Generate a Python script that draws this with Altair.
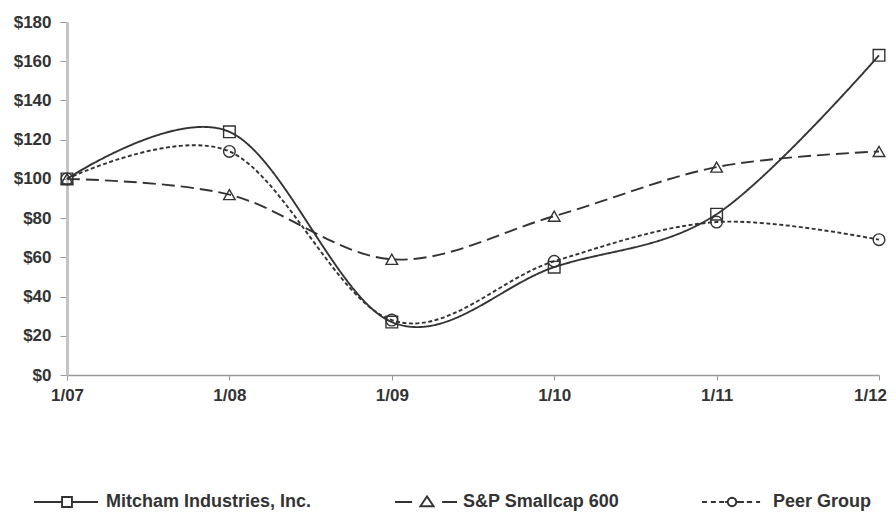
import math
import altair as alt
import pandas as pd

dates = ["1/07", "1/08", "1/09", "1/10", "1/11", "1/12"]
series = ["Mitcham Industries, Inc.", "S&P Smallcap 600", "Peer Group"]
mitcham = [100, 124, 27, 55, 82, 163]
sp600 = [100, 92, 59, 81, 106, 114]
peer = [100, 114, 28, 58, 78, 69]

marker_of = {series[0]: "square", series[1]: "triangle-up", series[2]: "circle"}
dash_of = {series[0]: [1, 0], series[1]: [13, 6], series[2]: [4, 2.5]}

rows = []
for name, vals in zip(series, [mitcham, sp600, peer]):
    for d, v in zip(dates, vals):
        rows.append({"date": d, "series": name, "dash": name, "mark": name, "value": v})
df = pd.DataFrame(rows)

FONT = "Liberation Sans"
INK = "#333333"

# legend glyphs (line pieces + marker) in unit coords, scaled by sqrt(size)/2
def circle_path(cx, r, n=16):
    pts = [(cx + r * math.cos(2 * math.pi * i / n), r * math.sin(2 * math.pi * i / n)) for i in range(n)]
    return "M" + "L".join(f"{x:.3f},{y:.3f}" for x, y in pts) + "Z"

def segs(pairs):
    return "".join(f"M{a},0H{b}" for a, b in pairs)

q = 0.15
sym_mitcham = segs([(-1, -q), (q, 0.94)]) + f"M{-q},{-q}H{q}V{q}H{-q}Z"
sym_sp = segs([(-0.88, -0.36), (0.55, 1.0)]) + "M0.09,-0.17L0.29,0.13L-0.11,0.13Z"
sym_peer = (
    segs([(-0.97, -0.82), (-0.70, -0.55), (-0.45, -0.30), (-0.27, -0.19),
          (0.07, 0.15), (0.15, 0.30), (0.39, 0.55), (0.67, 0.79)])
    + circle_path(-0.06, 0.13)
)

shape_sig = (
    f"datum.value === '{series[0]}' ? '{sym_mitcham}' : "
    f"datum.value === '{series[1]}' ? '{sym_sp}' : '{sym_peer}'"
)

# data-driven (alphabetical) domains for shape / dash so they do not merge with the legend
alpha = sorted(series)

base = alt.Chart(df).encode(
    x=alt.X(
        "date:N",
        sort=dates,
        scale=alt.Scale(type="point", padding=0),
        title=None,
        axis=alt.Axis(
            labelAngle=0,
            domainColor="#999999",
            domainWidth=1.5,
            tickColor="#999999",
            tickSize=5,
            labelPadding=7,
            labelOffset={"condition": {"test": "datum.value === '1/12'", "value": -9}, "value": 0},
            labelFont=FONT,
            labelFontSize=17,
            labelFontWeight="bold",
            labelColor=INK,
            grid=False,
        ),
    ),
    y=alt.Y(
        "value:Q",
        scale=alt.Scale(domain=[0, 180], nice=False),
        title=None,
        axis=alt.Axis(
            values=list(range(0, 181, 20)),
            labelExpr="'$' + datum.value",
            domainColor="#c4c4c4",
            domainWidth=3,
            tickColor="#999999",
            tickSize=7,
            labelPadding=9,
            labelFont=FONT,
            labelFontSize=17,
            labelFontWeight="bold",
            labelColor=INK,
            grid=False,
        ),
    ),
)

lines = base.mark_line(interpolate="cardinal", tension=0, strokeWidth=1.9).encode(
    color=alt.Color(
        "series:N",
        sort=series,
        scale=alt.Scale(domain=series, range=[INK, INK, INK]),
        legend=alt.Legend(
            title=None,
            orient="none",
            legendX=-34,
            legendY=446,
            direction="horizontal",
            columns=3,
            columnPadding=78,
            padding=0,
            symbolSize=4356,
            symbolStrokeWidth=1.9,
            symbolFillColor="transparent",
            symbolType=alt.ExprRef(expr=shape_sig),
            labelFont=FONT,
            labelFontSize=18,
            labelFontWeight="bold",
            labelColor=INK,
            labelOffset=5,
            labelLimit=0,
        ),
    ),
    strokeDash=alt.StrokeDash(
        "dash:N",
        scale=alt.Scale(range=[dash_of[s] for s in alpha]),
        legend=None,
    ),
)

points = base.mark_point(filled=False, color=INK, size=135, strokeWidth=1.4, opacity=1).encode(
    shape=alt.Shape(
        "mark:N",
        scale=alt.Scale(range=[marker_of[s] for s in alpha]),
        legend=None,
    ),
)

chart = (
    alt.layer(lines, points)
    .properties(
        width=812,
        height=353,
        autosize=alt.AutoSizeParams(type="none"),
        padding={"left": 59, "top": 14, "right": 9, "bottom": 136},
        background="white",
    )
    .configure_view(strokeWidth=0)
)

chart.save("out.html", embed_options={"renderer": "svg", "actions": False})
